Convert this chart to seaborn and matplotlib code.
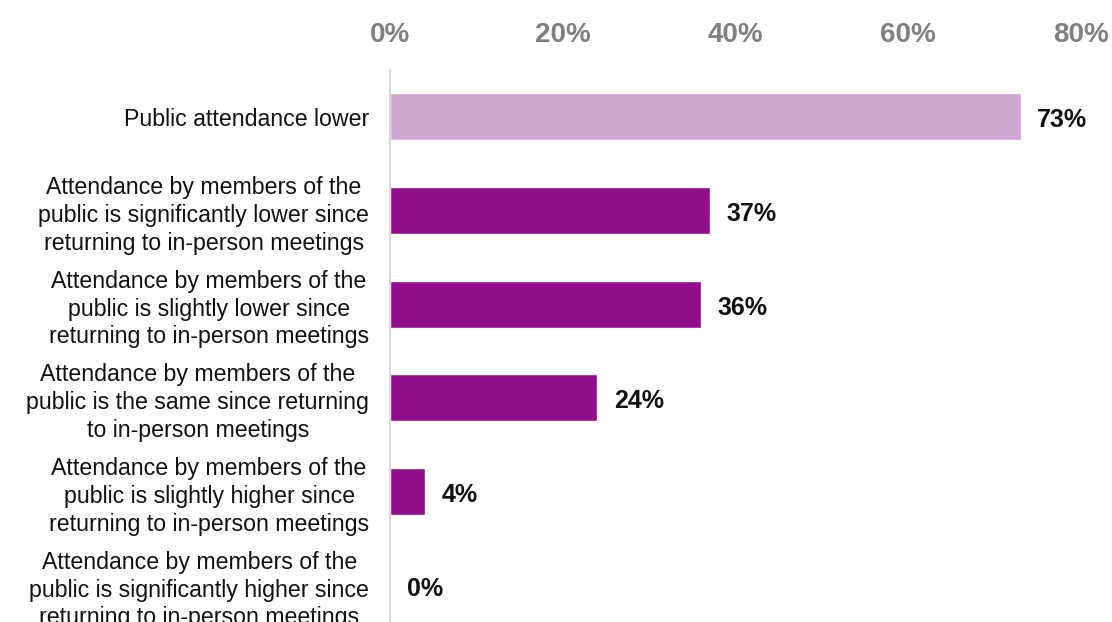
import matplotlib
matplotlib.use("Agg")
import matplotlib.pyplot as plt
import seaborn as sns
import pandas as pd

# Survey responses on public attendance at meetings
categories = [
    "Public attendance lower",
    "Attendance by members of the\npublic is significantly lower since\nreturning to in-person meetings",
    "Attendance by members of the\npublic is slightly lower since\nreturning to in-person meetings",
    "Attendance by members of the\npublic is the same since returning\nto in-person meetings",
    "Attendance by members of the\npublic is slightly higher since\nreturning to in-person meetings",
    "Attendance by members of the\npublic is significantly higher since\nreturning to in-person meetings",
]
values = [73, 37, 36, 24, 4, 0]
bar_colors = ["#CEA5D1", "#910E8D", "#910E8D", "#910E8D", "#910E8D", "#910E8D"]
x_ticks = [0, 20, 40, 60, 80]

sns.set_theme(style="white")
plt.rcParams["font.family"] = ["Liberation Sans", "DejaVu Sans"]

W, H = 1112, 622
fig = plt.figure(figsize=(W / 100, H / 100), dpi=100)
# plot area runs past the lower edge of the canvas
ax = fig.add_axes([390 / W, -10 / H, 691 / W, 562 / H])

df = pd.DataFrame({"category": categories, "value": values})
sns.barplot(
    data=df, y="category", x="value", hue="category",
    palette=bar_colors, legend=False, width=0.5, orient="h",
    saturation=1, ax=ax,
)

ax.set_xlim(0, 80)
ax.set_ylim(5.5, -0.5)
ax.set_xlabel("")
ax.set_ylabel("")

ax.xaxis.tick_top()
ax.set_xticks(x_ticks)
ax.set_xticklabels([f"{t}%" for t in x_ticks])
ax.tick_params(axis="x", length=0, pad=16, labelsize=20, labelcolor="#808080")
for lbl in ax.get_xticklabels():
    lbl.set_fontweight("bold")

ax.tick_params(axis="y", length=0, pad=15, labelsize=16.7, labelcolor="#111111")
for lbl in ax.get_yticklabels():
    lbl.set_multialignment("center")
    lbl.set_linespacing(1.27)

for side in ["top", "right", "bottom"]:
    ax.spines[side].set_visible(False)
ax.spines["left"].set_color("#D9D9D9")
ax.spines["left"].set_linewidth(1.5)
ax.grid(False)

for i, v in enumerate(values):
    ax.annotate(
        f"{v}%", xy=(v, i), xytext=(12, -2.5), textcoords="offset points",
        ha="left", va="center", fontsize=18, fontweight="bold", color="#111111",
    )

fig.savefig("out.png", dpi=100)
